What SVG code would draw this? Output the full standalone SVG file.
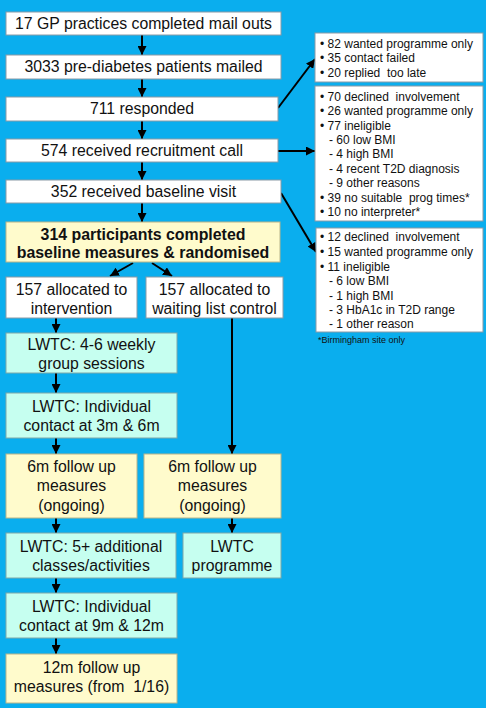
<svg xmlns="http://www.w3.org/2000/svg" width="486" height="708" viewBox="0 0 486 708">
<defs>
<marker id="ah" viewBox="0 0 10 10" refX="10" refY="5" markerWidth="9" markerHeight="9" markerUnits="userSpaceOnUse" orient="auto">
<path d="M0,0 L10,5 L0,10 z" fill="#000"/>
</marker>
</defs>
<style>
.w{fill:#fff;stroke:#8a9aa6;stroke-width:1}
.y{fill:#fffbcc;stroke:#b8b48a;stroke-width:1}
.a{fill:#c6fff0;stroke:#7fa8a8;stroke-width:1}
.t{font-family:"Liberation Sans",Arial,sans-serif;font-size:15.8px;fill:#111;text-anchor:middle}
.b{font-weight:bold;font-size:15.9px}
.s{font-family:"Liberation Sans",Arial,sans-serif;font-size:12px;fill:#111}
.f{font-family:"Liberation Sans",Arial,sans-serif;font-size:9px;fill:#111}
.c{stroke:#000;stroke-width:2;fill:none;marker-end:url(#ah)}
</style>
<rect x="0" y="0" width="486" height="708" fill="#0aaeee"/>
<g id="connectors">
<line class="c" x1="142" y1="35" x2="142" y2="55"/>
<line class="c" x1="142" y1="79" x2="142" y2="97"/>
<line class="c" x1="142" y1="121" x2="142" y2="139"/>
<line class="c" x1="142" y1="162" x2="142" y2="180"/>
<line class="c" x1="142" y1="203" x2="142" y2="222"/>
<line class="c" x1="278" y1="108" x2="315" y2="59"/>
<line class="c" x1="278" y1="151" x2="315" y2="151"/>
<line class="c" x1="281" y1="193" x2="316" y2="252"/>
<line class="c" x1="133" y1="263" x2="110" y2="276"/>
<line class="c" x1="152" y1="263" x2="172" y2="276"/>
<line class="c" x1="56" y1="318" x2="56" y2="333"/>
<line class="c" x1="56" y1="373" x2="56" y2="393"/>
<line class="c" x1="56" y1="438" x2="56" y2="454"/>
<line class="c" x1="232" y1="318" x2="232" y2="454"/>
<line class="c" x1="56" y1="518" x2="56" y2="533"/>
<line class="c" x1="232" y1="518" x2="232" y2="533"/>
<line class="c" x1="56" y1="578" x2="56" y2="593"/>
<line class="c" x1="56" y1="638" x2="56" y2="654"/>
</g>
<g id="n1"><rect class="w" x="6" y="12" width="275" height="23"/><text class="t" x="143.5" y="29">17 GP practices completed mail outs</text></g>
<g id="n2"><rect class="w" x="6" y="55" width="275" height="24"/><text class="t" x="143.5" y="72">3033 pre-diabetes patients mailed</text></g>
<g id="n3"><rect class="w" x="6" y="97" width="272" height="24"/><text class="t" x="142" y="114">711 responded</text></g>
<g id="n4"><rect class="w" x="6" y="139" width="272" height="23"/><text class="t" x="142" y="156">574 received recruitment call</text></g>
<g id="n5"><rect class="w" x="6" y="180" width="275" height="23"/><text class="t" x="143.5" y="197">352 received baseline visit</text></g>
<g id="n6"><rect class="y" x="6" y="222" width="274" height="40"/><text class="t b" x="143" y="240">314 participants completed</text><text class="t b" x="143" y="258">baseline measures &amp; randomised</text></g>
<g id="n7"><rect class="w" x="6" y="277" width="131" height="41"/><text class="t" x="71.5" y="295">157 allocated to</text><text class="t" x="71.5" y="314">intervention</text></g>
<g id="n8"><rect class="w" x="146" y="277" width="137" height="41"/><text class="t" x="214.5" y="295">157 allocated to</text><text class="t" x="214.5" y="314">waiting list control</text></g>
<g id="n9"><rect class="a" x="6" y="333" width="171" height="40"/><text class="t" x="91.5" y="350">LWTC: 4-6 weekly</text><text class="t" x="91.5" y="369">group sessions</text></g>
<g id="n10"><rect class="a" x="6" y="393" width="171" height="45"/><text class="t" x="91.5" y="412">LWTC: Individual</text><text class="t" x="91.5" y="431">contact at 3m &amp; 6m</text></g>
<g id="n11"><rect class="y" x="6" y="454" width="131" height="64"/><text class="t" x="71.5" y="472">6m follow up</text><text class="t" x="71.5" y="491">measures</text><text class="t" x="71.5" y="511">(ongoing)</text></g>
<g id="n12"><rect class="y" x="144" y="454" width="137" height="64"/><text class="t" x="212.5" y="472">6m follow up</text><text class="t" x="212.5" y="491">measures</text><text class="t" x="212.5" y="511">(ongoing)</text></g>
<g id="n13"><rect class="a" x="6" y="533" width="170" height="45"/><text class="t" x="91" y="552">LWTC: 5+ additional</text><text class="t" x="91" y="571">classes/activities</text></g>
<g id="n14"><rect class="a" x="183" y="533" width="98" height="45"/><text class="t" x="232" y="552">LWTC</text><text class="t" x="232" y="571">programme</text></g>
<g id="n15"><rect class="a" x="6" y="593" width="171" height="45"/><text class="t" x="91.5" y="612">LWTC: Individual</text><text class="t" x="91.5" y="631">contact at 9m &amp; 12m</text></g>
<g id="n16"><rect class="y" x="6" y="654" width="171" height="49"/><text class="t" x="91.5" y="673">12m follow up</text><text class="t" x="91.5" y="692" xml:space="preserve">measures (from  1/16)</text></g>
<g id="r1"><rect class="w" x="315" y="33" width="168" height="49"/>
<text class="s" x="320" y="48">• 82 wanted programme only</text>
<text class="s" x="320" y="62">• 35 contact failed</text>
<text class="s" x="320" y="77" xml:space="preserve">• 20 replied  too late</text></g>
<g id="r2"><rect class="w" x="315" y="86" width="168" height="135"/>
<text class="s" x="320" y="101" xml:space="preserve">• 70 declined  involvement</text>
<text class="s" x="320" y="115">• 26 wanted programme only</text>
<text class="s" x="320" y="130">• 77 ineligible</text>
<text class="s" x="329" y="144">- 60 low BMI</text>
<text class="s" x="329" y="158">- 4 high BMI</text>
<text class="s" x="329" y="173">- 4 recent T2D diagnosis</text>
<text class="s" x="329" y="187">- 9 other reasons</text>
<text class="s" x="320" y="202" xml:space="preserve">• 39 no suitable  prog times*</text>
<text class="s" x="320" y="216">• 10 no interpreter*</text></g>
<g id="r3"><rect class="w" x="316" y="228" width="167" height="104"/>
<text class="s" x="320" y="241" xml:space="preserve">• 12 declined  involvement</text>
<text class="s" x="320" y="256">• 15 wanted programme only</text>
<text class="s" x="320" y="271">• 11 ineligible</text>
<text class="s" x="329" y="285">- 6 low BMI</text>
<text class="s" x="329" y="300">- 1 high BMI</text>
<text class="s" x="329" y="314">- 3 HbA1c in T2D range</text>
<text class="s" x="329" y="328">- 1 other reason</text></g>
<g id="note"><text class="f" x="318" y="343">*Birmingham site only</text></g>
</svg>
